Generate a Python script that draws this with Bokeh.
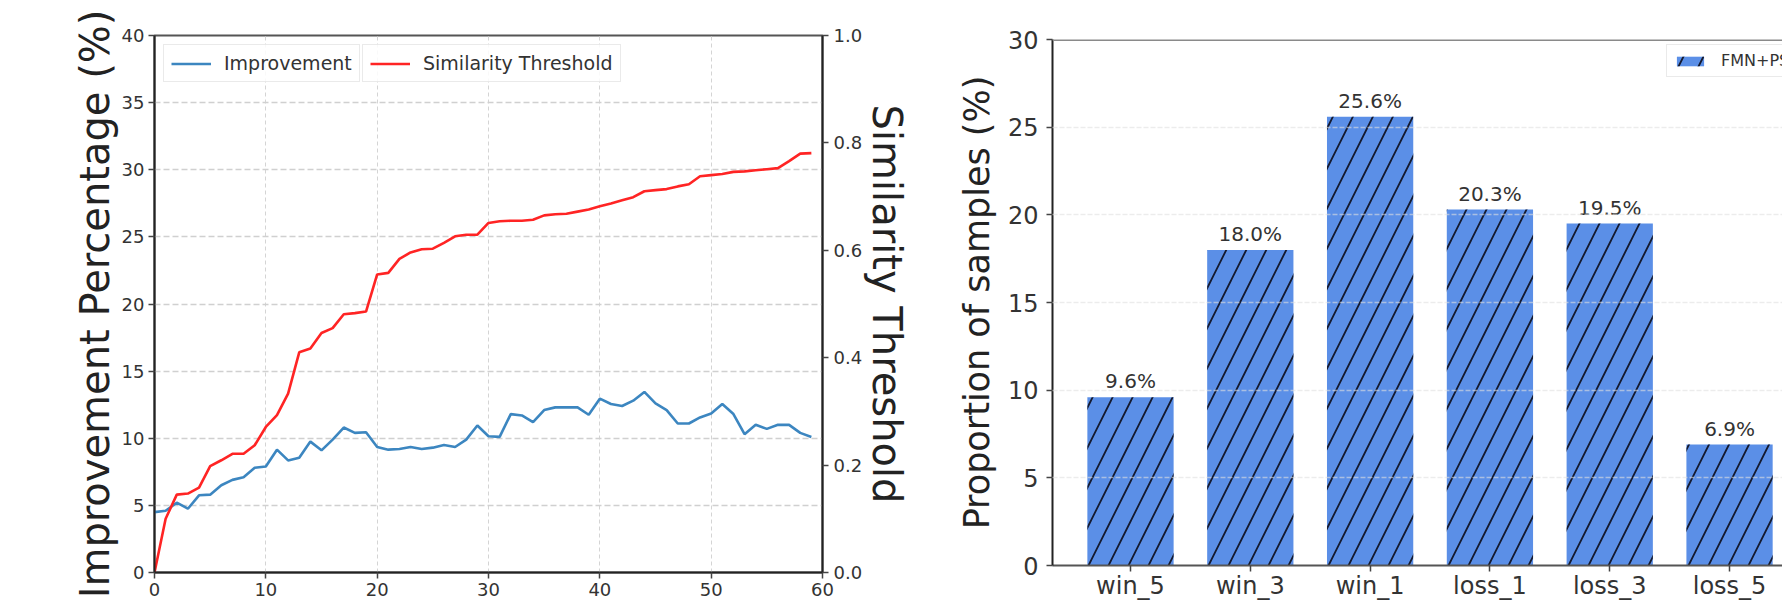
from bokeh.plotting import figure
from bokeh.models import (Range1d, LinearAxis, Legend, LegendItem, ColumnDataSource,
                          LabelSet, Span, FixedTicker, PrintfTickFormatter)
from bokeh.core.properties import value
from bokeh.layouts import row, column
from bokeh.embed import file_html
from bokeh.resources import INLINE

# ---------------- data ----------------
epochs = list(range(60))
improvement = [4.5, 4.6, 5.2, 4.75, 5.75, 5.8, 6.5, 6.9, 7.1, 7.8,
               7.9, 9.15, 8.35, 8.55, 9.75, 9.1, 9.9, 10.8, 10.4, 10.45,
               9.35, 9.15, 9.2, 9.35, 9.2, 9.3, 9.5, 9.35, 9.9, 10.95,
               10.15, 10.1, 11.8, 11.7, 11.2, 12.1, 12.3, 12.3, 12.3, 11.75,
               12.95, 12.55, 12.4, 12.8, 13.45, 12.6, 12.1, 11.1, 11.1, 11.55,
               11.85, 12.55, 11.8, 10.3, 11.0, 10.7, 11.0, 11.0, 10.4, 10.1]
threshold = [0.0, 0.10, 0.145, 0.147, 0.158, 0.198, 0.209, 0.221, 0.221, 0.237,
             0.271, 0.293, 0.333, 0.41, 0.417, 0.446, 0.455, 0.481, 0.483, 0.486,
             0.555, 0.558, 0.584, 0.596, 0.602, 0.603, 0.614, 0.626, 0.629, 0.629,
             0.651, 0.654, 0.655, 0.655, 0.657, 0.665, 0.667, 0.668, 0.672, 0.676,
             0.682, 0.687, 0.693, 0.699, 0.71, 0.712, 0.714, 0.719, 0.723, 0.738,
             0.74, 0.742, 0.746, 0.747, 0.749, 0.751, 0.753, 0.766, 0.78, 0.781]

categories = ["win_5", "win_3", "win_1", "loss_1", "loss_3", "loss_5"]
proportions = [9.6, 18.0, 25.6, 20.3, 19.5, 6.9]
bar_series = "FMN+PS"

left_yticks = [0, 5, 10, 15, 20, 25, 30, 35, 40]
right_yticks = [0.0, 0.2, 0.4, 0.6, 0.8, 1.0]
xticks = [0, 10, 20, 30, 40, 50, 60]
bar_yticks = [0, 5, 10, 15, 20, 25, 30]

FONT = "DejaVu Sans"
BLUE = "#3c86c0"
RED = "#ff2424"
TXT = "#333333"


def style_axis(ax, size):
    ax.major_label_text_font = FONT
    ax.major_label_text_font_size = size
    ax.major_label_text_color = TXT
    ax.axis_label_text_font = FONT
    ax.axis_label_text_font_style = "normal"
    ax.axis_label_text_color = "#222222"
    ax.minor_tick_line_color = None
    ax.major_tick_in = 0
    ax.major_tick_out = 6
    ax.major_tick_line_color = "#444444"
    ax.major_tick_line_width = 1.5
    ax.axis_line_color = "#222222"
    ax.axis_line_width = 2


# ---------------- left chart ----------------
p1 = figure(width=940, height=602, x_range=Range1d(0, 60), y_range=Range1d(0, 40),
            output_backend="svg", toolbar_location=None,
            min_border_left=154, min_border_right=118, min_border_top=35, min_border_bottom=30)
p1.extra_y_ranges = {"sim": Range1d(0, 1.0)}
p1.outline_line_color = "#555555"
p1.outline_line_width = 2

p1.xaxis.ticker = FixedTicker(ticks=xticks)
p1.yaxis.ticker = FixedTicker(ticks=left_yticks)
p1.yaxis.axis_label = "Improvement Percentage (%)"
style_axis(p1.xaxis[0], "18px")
style_axis(p1.yaxis[0], "18px")
p1.yaxis.axis_label_text_font_size = "40px"
p1.yaxis.axis_label_standoff = 1
p1.xaxis.major_label_standoff = 4
p1.xaxis.axis_label_standoff = 0
p1.xaxis.major_label_text_line_height = 1.0
p1.yaxis.major_label_standoff = 4

ax2 = LinearAxis(y_range_name="sim", ticker=FixedTicker(ticks=right_yticks),
                 formatter=PrintfTickFormatter(format="%.1f"),
                 axis_label="Similarity Threshold")
style_axis(ax2, "18px")
ax2.axis_label_text_font_size = "40px"
ax2.major_label_standoff = 5
ax2.axis_label_standoff = -1
p1.add_layout(ax2, "right")

p1.xgrid.grid_line_color = "#d4d4d4"
p1.xgrid.grid_line_dash = "4 3"
p1.xgrid.grid_line_width = 1
p1.ygrid.grid_line_color = "#d0d0d0"
p1.ygrid.grid_line_dash = "6 3"
p1.ygrid.grid_line_width = 1.6

r_imp = p1.line(epochs, improvement, line_color=BLUE, line_width=2.6)
r_thr = p1.line(epochs, threshold, y_range_name="sim", line_color=RED, line_width=2.6)


def make_legend(item, renderer, loc):
    return Legend(items=[LegendItem(label=item, renderers=[renderer])], location=loc,
                  label_text_font=FONT, label_text_font_size="19px", label_text_color=TXT,
                  glyph_width=40, glyph_height=21, label_height=21, label_standoff=13,
                  padding=7, spacing=0, margin=0,
                  border_line_color="#d6d6d6", border_line_width=1.5,
                  background_fill_alpha=0.85)


p1.add_layout(make_legend("Improvement", r_imp, (9, 490)))
p1.add_layout(make_legend("Similarity Threshold", r_thr, (208, 490)))

# ---------------- right chart ----------------
xs = list(range(len(categories)))
src = ColumnDataSource(dict(x=xs, p=proportions, lab=[f"{v:.1f}%" for v in proportions]))

p2 = figure(width=842, height=602, x_range=Range1d(-0.651, 5.442), y_range=Range1d(0, 30),
            output_backend="svg", toolbar_location=None,
            min_border_left=112, min_border_right=0, min_border_top=39, min_border_bottom=34)
p2.outline_line_color = None

bars = p2.vbar(x="x", top="p", width=0.72, source=src, fill_color="#5b8fe7", line_color=None,
               hatch_pattern="/", hatch_color="#141a30", hatch_weight=1.8, hatch_scale=40)

p2.add_layout(LabelSet(x="x", y="p", text="lab", source=src, y_offset=4,
                       text_align="center", text_baseline="bottom",
                       text_font=value(FONT), text_font_size="20px", text_color=TXT))

p2.xaxis.ticker = FixedTicker(ticks=xs)
p2.xaxis.major_label_overrides = {i: c for i, c in zip(xs, categories)}
p2.yaxis.ticker = FixedTicker(ticks=bar_yticks)
p2.yaxis.axis_label = "Proportion of samples (%)"
style_axis(p2.xaxis[0], "24px")
style_axis(p2.yaxis[0], "24px")
p2.yaxis.axis_label_text_font_size = "35px"
p2.yaxis.axis_label_standoff = 8
p2.xaxis.major_label_standoff = 0
p2.xaxis.axis_label_standoff = 0
p2.xaxis.major_label_text_line_height = 0.85
p2.yaxis.major_label_standoff = 8
p2.xaxis.axis_line_color = "#555555"
p2.yaxis.axis_line_color = "#222222"

p2.xgrid.visible = False
p2.ygrid.grid_line_color = "#e0e0e0"
p2.ygrid.grid_line_dash = "5 2"
p2.ygrid.grid_line_width = 1.5
p2.ygrid.level = "overlay"
p2.ygrid.grid_line_alpha = 0.6

p2.add_layout(Span(location=30, dimension="width", line_color="#8a8a8a", line_width=3))

p2.add_layout(Legend(items=[LegendItem(label=bar_series, renderers=[bars])], location=(614, 488),
                     label_text_font=FONT, label_text_font_size="16px", label_text_color=TXT,
                     glyph_width=34, glyph_height=12, label_height=17, label_standoff=14,
                     padding=6, spacing=0, margin=0,
                     border_line_color="#d6d6d6", border_line_width=1.5,
                     background_fill_alpha=0.85))

layout = row(column(p1), column(p2))

open("out.html", "w").write(file_html(layout, INLINE))
